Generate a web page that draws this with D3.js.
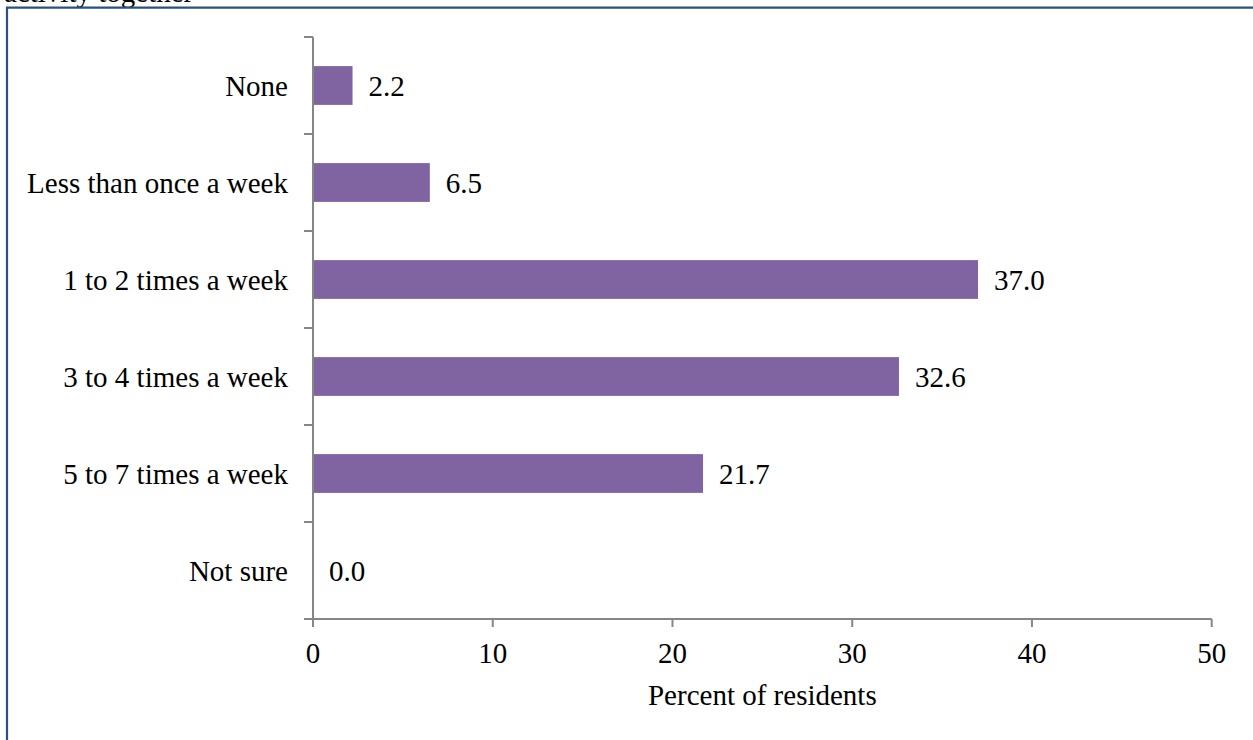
<!DOCTYPE html>
<html>
<head>
<meta charset="utf-8">
<script src="https://cdn.jsdelivr.net/npm/d3@7"></script>
<style>
  html, body { margin: 0; padding: 0; background: #fff; }
  svg { display: block; }
  text { font-family: "Liberation Serif", "Times New Roman", serif; fill: #000; }
</style>
</head>
<body>
<svg id="chart" width="1253" height="740"></svg>
<script>
// Frequency of doing a physical activity together
const categories = ["None", "Less than once a week", "1 to 2 times a week",
                    "3 to 4 times a week", "5 to 7 times a week", "Not sure"];
const percents = [2.2, 6.5, 37.0, 32.6, 21.7, 0.0];
const xTicks = [0, 10, 20, 30, 40, 50];
const xTitle = "Percent of residents";
const headingTail = "activity together";

const W = 1253, H = 740;
const margin = { top: 37, right: 42, bottom: 121, left: 313 };
const svg = d3.select("#chart");

const fontSize = 29;
const axisColor = "#868686";
const barColor = "#8064A2";
const frameColor = "#2A5083";

// Cut-off heading line above the frame
svg.append("text")
  .attr("x", 4)
  .attr("y", 2)
  .style("font-size", fontSize + "px")
  .text(headingTail);

// Frame (left and top edges visible)
svg.append("line")
  .attr("x1", 7).attr("x2", 7).attr("y1", 7).attr("y2", H)
  .attr("stroke", frameColor).attr("stroke-width", 2.2);
svg.append("line")
  .attr("x1", 6).attr("x2", W).attr("y1", 7.6).attr("y2", 7.6)
  .attr("stroke", frameColor).attr("stroke-width", 2.2);

const x = d3.scaleLinear()
  .domain([0, 50])
  .range([margin.left, 1211.7]);

const y = d3.scaleBand()
  .domain(categories)
  .range([margin.top, 619])
  .padding(0);

const bw = y.bandwidth();
const g = svg.append("g");

// Bars
g.selectAll("rect.bar")
  .data(categories)
  .join("rect")
  .attr("class", "bar")
  .attr("x", x(0))
  .attr("y", d => y(d) + bw * 0.3)
  .attr("width", (d, i) => x(percents[i]) - x(0))
  .attr("height", bw * 0.4)
  .attr("fill", barColor);

// Value labels
g.selectAll("text.val")
  .data(categories)
  .join("text")
  .attr("class", "val")
  .attr("x", (d, i) => x(percents[i]) + 16)
  .attr("y", d => y(d) + bw / 2)
  .attr("dy", "0.35em")
  .style("font-size", fontSize + "px")
  .text((d, i) => percents[i].toFixed(1));

// Y axis: line with ticks at category boundaries
const yBottom = y.range()[1];
g.append("line")
  .attr("x1", x(0)).attr("x2", x(0))
  .attr("y1", margin.top).attr("y2", yBottom)
  .attr("stroke", axisColor).attr("stroke-width", 2);
const boundaries = categories.map(c => y(c)).concat([yBottom]);
g.selectAll("line.ytick")
  .data(boundaries)
  .join("line")
  .attr("class", "ytick")
  .attr("x1", x(0) - 9).attr("x2", x(0))
  .attr("y1", d => d).attr("y2", d => d)
  .attr("stroke", axisColor).attr("stroke-width", 2);

// Category labels
g.selectAll("text.cat")
  .data(categories)
  .join("text")
  .attr("class", "cat")
  .attr("x", x(0) - 25)
  .attr("y", d => y(d) + bw / 2)
  .attr("dy", "0.35em")
  .attr("text-anchor", "end")
  .style("font-size", fontSize + "px")
  .text(d => d);

// X axis
g.append("line")
  .attr("x1", x(0) - 9).attr("x2", x(50))
  .attr("y1", yBottom).attr("y2", yBottom)
  .attr("stroke", axisColor).attr("stroke-width", 2);
g.selectAll("line.xtick")
  .data(xTicks)
  .join("line")
  .attr("class", "xtick")
  .attr("x1", d => x(d)).attr("x2", d => x(d))
  .attr("y1", yBottom).attr("y2", yBottom + 8)
  .attr("stroke", axisColor).attr("stroke-width", 2);
g.selectAll("text.xlab")
  .data(xTicks)
  .join("text")
  .attr("class", "xlab")
  .attr("x", d => x(d))
  .attr("y", 663)
  .attr("text-anchor", "middle")
  .style("font-size", fontSize + "px")
  .text(d => d);

// X axis title
g.append("text")
  .attr("x", (x(0) + x(50)) / 2)
  .attr("y", 705)
  .attr("text-anchor", "middle")
  .style("font-size", fontSize + "px")
  .text(xTitle);
</script>
</body>
</html>
